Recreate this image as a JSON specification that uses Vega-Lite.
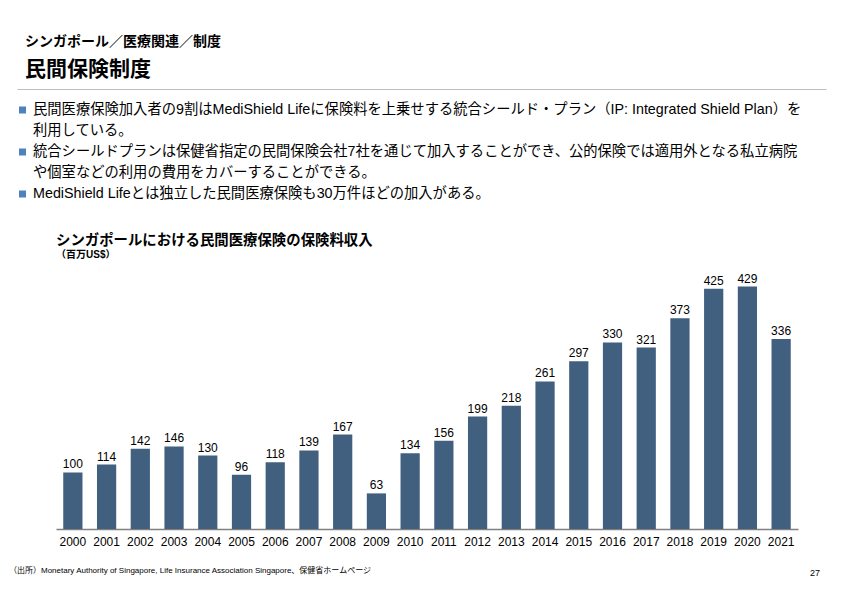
{
  "$schema": "https://vega.github.io/schema/vega-lite/v6.json",
  "background": "white",
  "padding": {"left": 9, "top": 35, "right": 5, "bottom": 5},
  "config": {
    "font": "Liberation Sans, Noto Sans CJK JP",
    "view": {"stroke": null}
  },
  "title": {
    "text": "シンガポール／医療関連／制度",
    "subtitle": "民間保険制度",
    "anchor": "start",
    "dx": 16,
    "fontSize": 14,
    "fontWeight": "bold",
    "color": "black",
    "subtitleFontSize": 21,
    "subtitleFontWeight": "bold",
    "subtitleColor": "black",
    "subtitlePadding": 10,
    "offset": 9
  },
  "spacing": 17,
  "vconcat": [
    {
      "width": 817,
      "height": 126,
      "data": {
        "values": [
          {"line": 1, "text": "民間医療保険加入者の9割はMediShield Lifeに保険料を上乗せする統合シールド・プラン（IP: Integrated Shield Plan）を", "bullet": true},
          {"line": 2, "text": "利用している。", "bullet": false},
          {"line": 3, "text": "統合シールドプランは保健省指定の民間保険会社7社を通じて加入することができ、公的保険では適用外となる私立病院", "bullet": true},
          {"line": 4, "text": "や個室などの利用の費用をカバーすることができる。", "bullet": false},
          {"line": 5, "text": "MediShield Lifeとは独立した民間医療保険も30万件ほどの加入がある。", "bullet": true}
        ]
      },
      "layer": [
        {
          "mark": {"type": "text", "align": "left", "baseline": "middle", "fontSize": 14.3, "color": "black"},
          "encoding": {
            "x": {
              "datum": 1.98,
              "type": "quantitative",
              "scale": {"domain": [0, 100], "range": [8, 817], "nice": false, "zero": false},
              "axis": {"orient": "top", "domain": true, "domainColor": "#bfbfbf", "domainWidth": 1, "ticks": false, "labels": false, "grid": false, "title": null}
            },
            "y": {"field": "line", "type": "ordinal", "scale": {"type": "point", "padding": 1}, "axis": null},
            "text": {"field": "text"}
          }
        },
        {
          "transform": [{"filter": "datum.bullet"}],
          "mark": {"type": "square", "size": 49, "color": "#4F81BD", "opacity": 1, "filled": true},
          "encoding": {
            "x": {"datum": 0.68, "type": "quantitative"},
            "y": {"field": "line", "type": "ordinal"}
          }
        }
      ]
    },
    {
      "width": 789,
      "height": 260,
      "title": {
        "text": "シンガポールにおける民間医療保険の保険料収入",
        "subtitle": "（百万US$）",
        "anchor": "start",
        "frame": "group",
        "dx": 47,
        "fontSize": 14.4,
        "fontWeight": "bold",
        "color": "black",
        "subtitleFontSize": 10,
        "subtitleFontWeight": "bold",
        "subtitleColor": "black",
        "subtitlePadding": 2,
        "offset": 8
      },
      "data": {
        "values": [
          {"year": "2000", "value": 100},
          {"year": "2001", "value": 114},
          {"year": "2002", "value": 142},
          {"year": "2003", "value": 146},
          {"year": "2004", "value": 130},
          {"year": "2005", "value": 96},
          {"year": "2006", "value": 118},
          {"year": "2007", "value": 139},
          {"year": "2008", "value": 167},
          {"year": "2009", "value": 63},
          {"year": "2010", "value": 134},
          {"year": "2011", "value": 156},
          {"year": "2012", "value": 199},
          {"year": "2013", "value": 218},
          {"year": "2014", "value": 261},
          {"year": "2015", "value": 297},
          {"year": "2016", "value": 330},
          {"year": "2017", "value": 321},
          {"year": "2018", "value": 373},
          {"year": "2019", "value": 425},
          {"year": "2020", "value": 429},
          {"year": "2021", "value": 336}
        ]
      },
      "encoding": {
        "x": {
          "field": "year",
          "type": "ordinal",
          "scale": {"range": [47, 789], "paddingInner": 0.43, "paddingOuter": 0.215},
          "axis": {"orient": "bottom", "title": null, "ticks": false, "labelAngle": 0, "labelFontSize": 12, "labelColor": "black", "labelPadding": 7, "domainColor": "#808080", "domainWidth": 1.5, "labelOverlap": false}
        },
        "y": {
          "field": "value",
          "type": "quantitative",
          "scale": {"domain": [0, 460], "nice": false},
          "axis": null
        }
      },
      "layer": [
        {"mark": {"type": "bar", "color": "#41607F"}},
        {
          "mark": {"type": "text", "baseline": "alphabetic", "dy": -4, "fontSize": 12, "color": "black"},
          "encoding": {"text": {"field": "value", "type": "quantitative"}}
        }
      ]
    },
    {
      "width": 811,
      "height": 14,
      "data": {
        "values": [
          {"kind": "source", "label": "（出所）Monetary Authority of Singapore, Life Insurance Association Singapore、保健省ホームページ"},
          {"kind": "page", "label": "27"}
        ]
      },
      "encoding": {
        "x": {"field": "kind", "type": "nominal", "scale": {"type": "point", "domain": ["source", "page"], "padding": 0}, "axis": null},
        "text": {"field": "label"}
      },
      "layer": [
        {
          "transform": [{"filter": "datum.kind === 'source'"}],
          "mark": {"type": "text", "align": "left", "baseline": "middle", "fontSize": 8, "color": "black"}
        },
        {
          "transform": [{"filter": "datum.kind === 'page'"}],
          "mark": {"type": "text", "align": "right", "baseline": "middle", "fontSize": 9, "dy": 2, "color": "black"}
        }
      ]
    }
  ]
}
